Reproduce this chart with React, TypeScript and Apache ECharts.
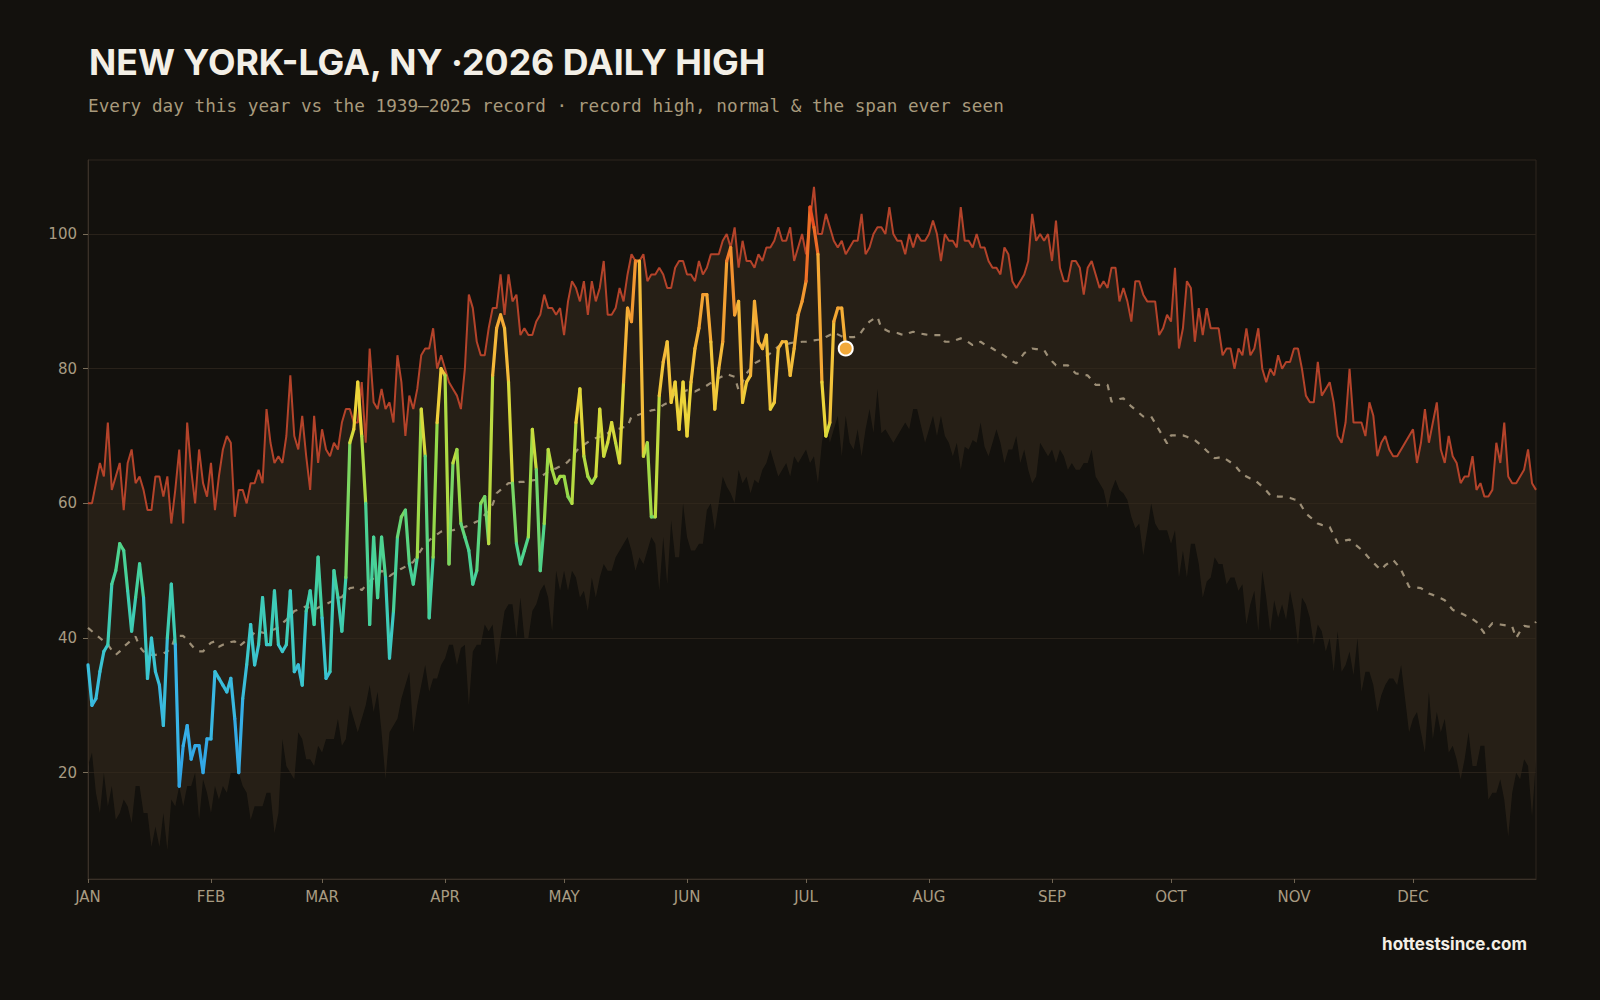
import React, { useEffect, useRef } from "react";
import * as echarts from "echarts";

const MONTHS = ["JAN", "FEB", "MAR", "APR", "MAY", "JUN", "JUL", "AUG", "SEP", "OCT", "NOV", "DEC"];
const MONTH_START_DAYS = [0, 31, 59, 90, 120, 151, 181, 212, 243, 273, 304, 334];
const Y_TICKS = [20, 40, 60, 80, 100];

const RECORD_HIGH = [
  60, 60, 63, 66, 64, 72, 62, 64, 66, 59,
  66, 68, 63, 64, 62, 59, 59, 64, 64, 61,
  64, 57, 62, 68, 57, 72, 65, 60, 68, 63,
  61, 66, 59, 64, 68, 70, 69, 58, 62, 62,
  60, 63, 63, 65, 63, 74, 69, 66, 67, 66,
  70, 79, 70, 68, 73, 67, 62, 73, 66, 71,
  68, 67, 69, 68, 72, 74, 74, 72, 72, 78,
  69, 83, 75, 74, 77, 74, 75, 72, 82, 78,
  70, 76, 74, 77, 82, 83, 83, 86, 80, 82,
  80, 78, 77, 76, 74, 80, 91, 89, 84, 82,
  82, 86, 89, 89, 94, 88, 94, 90, 91, 85,
  86, 85, 85, 87, 88, 91, 89, 89, 88, 89,
  85, 90, 93, 92, 90, 93, 88, 93, 90, 92,
  96, 88, 88, 89, 92, 90, 94, 97, 96, 96,
  97, 93, 94, 94, 95, 94, 92, 92, 95, 96,
  96, 94, 94, 93, 96, 94, 95, 97, 97, 97,
  99, 100, 98, 101, 95, 99, 96, 96, 95, 97,
  96, 98, 98, 99, 101, 99, 99, 101, 96, 98,
  100, 97, 102, 107, 100, 100, 103, 101, 99, 98,
  99, 97, 98, 99, 99, 103, 97, 98, 100, 101,
  101, 100, 104, 100, 99, 99, 97, 100, 98, 100,
  99, 99, 100, 102, 100, 96, 100, 99, 99, 98,
  104, 99, 99, 98, 100, 98, 98, 96, 95, 95,
  94, 98, 97, 93, 92, 93, 94, 96, 103, 99,
  100, 99, 100, 96, 102, 95, 93, 93, 96, 96,
  95, 91, 95, 96, 94, 92, 93, 92, 95, 95,
  90, 92, 90, 87, 93, 93, 91, 90, 90, 90,
  85, 86, 88, 87, 95, 83, 86, 93, 92, 84,
  89, 85, 89, 86, 86, 86, 82, 83, 83, 80,
  83, 82, 86, 82, 83, 86, 80, 78, 80, 79,
  82, 80, 81, 81, 83, 83, 80, 76, 75, 75,
  81, 76, 77, 78, 75, 70, 69, 72, 80, 72,
  72, 72, 70, 75, 73, 67, 69, 70, 68, 67,
  67, 68, 69, 70, 71, 66, 69, 74, 69, 72,
  75, 68, 66, 70, 67, 66, 63, 64, 64, 67,
  62, 63, 61, 61, 62, 69, 66, 72, 64, 63,
  63, 64, 65, 68, 63, 62,
];

const RECORD_LOW = [
  21, 23, 17, 14, 20, 15, 18, 13, 14, 16,
  15, 12.5, 18, 18, 14, 14, 9, 12, 9, 14,
  8.5, 16, 15, 18, 15, 18, 18, 20, 13, 19,
  17, 14, 18, 16, 18, 17, 20, 20, 20, 18,
  17, 13, 15, 15, 15, 17, 17, 11, 14, 25,
  21, 20, 19, 26, 25, 22, 22, 21, 24, 23,
  25, 25, 25, 28, 24, 25, 30, 28, 26, 28,
  30, 33, 29, 32, 26, 19, 26, 27, 28, 31,
  33, 35, 26, 30, 33, 36, 32, 34, 34, 36,
  37, 39, 39, 36, 38.5, 39, 30, 38, 39, 39,
  42, 41, 42, 36, 40, 44, 45, 45, 40, 46,
  40, 40, 44, 45, 47, 48, 46, 41, 50, 47,
  50, 47, 50, 49, 46, 47, 44, 49, 46, 49,
  51, 50, 50, 52, 53, 54, 55, 53, 50, 52,
  51, 53, 55, 54, 47, 55, 48, 57.5, 52, 52,
  60, 55, 53, 53, 54, 54, 59, 60, 56, 60,
  64, 62.5, 61.5, 60, 65, 63, 64, 61.5, 63.5, 63,
  65, 66, 68, 66, 64, 65, 66, 64, 67, 66,
  67, 68, 66, 67, 63, 69, 73, 69, 71, 73,
  67, 73, 69, 68, 71, 67, 71, 74, 70.5, 77,
  70.4, 71, 70, 69, 70, 71, 72, 71, 74, 74,
  71.5, 69, 71, 73, 70, 73, 70, 69, 67, 69,
  65, 68.4, 68, 69.4, 69, 72, 68.4, 67, 69, 71,
  69, 66, 68, 68, 70, 66, 68, 65, 63, 64,
  69, 68, 67, 68, 66, 68, 67, 65, 66, 65,
  65, 66, 66, 68, 64, 63, 62, 59.3, 62, 63.5,
  62, 61.5, 60.5, 58, 56.3, 57, 52.3, 56, 60, 57,
  56, 56, 56, 54, 56, 49, 53, 49, 54, 54,
  51, 46, 48.4, 49, 52, 51, 51, 48, 49, 49,
  47, 48, 42, 45, 47, 41, 50, 46, 41, 45.6,
  43, 45, 42.7, 47, 44, 39, 46, 45, 43, 39,
  42, 41, 38, 40, 35, 41, 35, 36, 38, 34.5,
  40, 32, 35, 35, 33, 29, 31.5, 33, 34, 34,
  33, 36, 31, 26, 28, 29, 26, 23, 32, 25,
  29, 26, 28, 23, 24, 22, 19, 22, 26, 21,
  21, 24, 24, 16, 17, 17, 19, 16, 10.5, 17,
  20, 19, 22, 21, 13.5, 22,
];

const NORMAL_HIGH = [
  41.5, 41.0, 40.5, 40.0, 39.5, 39.0, 38.2, 37.5, 38.0, 38.7,
  39.2, 39.7, 40.2, 38.7, 38.0, 37.6, 37.5, 37.5, 37.6, 37.7,
  38.0, 38.5, 40.2, 40.3, 40.3, 39.7, 39.0, 38.3, 38.0, 38.0,
  38.7, 39.3, 39.5, 38.7, 39.0, 39.2, 39.4, 39.5, 38.7, 39.2,
  39.7, 40.2, 40.8, 41.0, 40.8, 40.7, 41.0, 41.3, 41.6, 42.2,
  42.7, 43.3, 44.0, 44.2, 44.5, 44.7, 44.4, 44.2, 44.5, 44.8,
  45.0, 45.3, 45.6, 45.9, 46.1, 46.8, 47.4, 47.5, 47.6, 47.1,
  47.8, 48.4, 48.9, 49.4, 50.0, 49.6, 49.2, 49.6, 50.0, 50.3,
  50.6, 51.0, 51.3, 52.2, 53.1, 54.0, 54.5, 55.0, 55.4, 55.8,
  55.9, 56.0, 56.0, 56.2, 56.3, 56.5, 56.7, 57.0, 57.3, 57.5,
  58.3, 59.0, 59.8, 61.5, 62.0, 62.5, 63.0, 63.0, 63.1, 63.2,
  63.2, 63.3, 63.4, 63.5, 63.9, 64.3, 64.7, 65.0, 65.2, 65.5,
  65.7, 66.2, 66.9, 67.7, 68.4, 68.7, 69.1, 69.4, 69.7, 69.9,
  70.2, 70.4, 70.9, 71.0, 71.1, 71.3, 71.4, 72.9, 73.0, 73.2,
  73.4, 73.6, 73.8, 73.9, 74.2, 74.6, 74.9, 75.6, 76.3, 76.5,
  76.6, 76.8, 76.7, 76.6, 76.9, 77.1, 77.5, 77.9, 78.3, 78.6,
  78.9, 79.2, 79.0, 78.8, 76.8, 78.0, 79.3, 80.0, 80.8, 81.1,
  81.5, 81.8, 82.3, 82.8, 83.3, 83.5, 83.6, 83.8, 83.9, 83.9,
  84.0, 84.0, 84.1, 84.2, 84.3, 84.3, 84.7, 85.0, 85.4, 85.1,
  84.8, 84.6, 84.7, 84.7, 84.8, 85.5, 86.3, 87.0, 87.4, 87.7,
  86.0, 85.8, 85.5, 85.4, 85.3, 85.1, 85.0, 85.3, 85.5, 85.3,
  85.2, 85.1, 85.0, 85.0, 85.0, 85.0, 84.0, 84.0, 84.0, 84.3,
  84.5, 84.3, 83.9, 83.5, 83.8, 84.0, 83.6, 83.3, 83.0, 82.6,
  82.3, 81.9, 81.5, 81.1, 80.8, 81.5, 82.3, 82.7, 83.0, 82.9,
  82.9, 82.8, 81.8, 81.1, 80.5, 80.5, 80.5, 80.5, 79.9, 79.3,
  79.2, 79.1, 79.0, 78.3, 77.6, 77.6, 77.6, 77.6, 75.1, 75.3,
  75.5, 75.6, 75.0, 74.4, 73.9, 73.4, 72.9, 72.9, 72.9, 71.9,
  70.9, 69.9, 68.9, 70.1, 70.1, 70.1, 70.1, 69.9, 69.6, 69.4,
  68.9, 68.4, 67.8, 67.3, 66.7, 66.8, 66.9, 66.5, 66.1, 65.7,
  65.0, 64.2, 64.0, 63.7, 63.5, 63.0, 62.5, 61.9, 61.2, 61.1,
  61.0, 61.0, 60.9, 60.8, 60.6, 60.5, 59.5, 58.5, 58.0, 57.5,
  57.0, 56.8, 56.7, 56.5, 55.3, 54.1, 54.3, 54.5, 54.6, 54.1,
  53.6, 53.1, 52.5, 51.8, 51.2, 50.6, 50.1, 50.8, 51.2, 51.6,
  50.9, 50.1, 48.9, 47.6, 47.5, 47.5, 47.4, 47.0, 46.6, 46.4,
  46.1, 45.9, 45.6, 44.9, 44.2, 43.9, 43.7, 43.4, 43.1, 42.8,
  42.4, 41.5, 40.7, 41.5, 42.2, 42.1, 42.0, 41.9, 41.8, 41.7,
  40.0, 41.0, 41.8, 41.7, 41.7, 42.4,
];

const THIS_YEAR = [
  36, 30, 31, 35, 38, 39, 48, 50, 54, 53,
  47, 41, 46, 51, 46, 34, 40, 35, 33, 27,
  40, 48, 39, 18, 24, 27, 22, 24, 24, 20,
  25, 25, 35, 34, 33, 32, 34, 28, 20, 31,
  36, 42, 36, 39, 46, 39, 39, 47, 39, 38,
  39, 47, 35, 36, 33, 44, 47, 42, 52, 43,
  34, 35, 50, 46, 41, 49, 69, 71, 78, 70,
  60, 42, 55, 46, 55, 49, 37, 44, 55, 58,
  59, 51, 48, 52, 74, 67, 43, 52, 72, 80,
  79, 51, 66, 68, 57, 55, 53, 48, 50, 60,
  61, 54, 79, 86, 88, 86, 78, 63, 54, 51,
  53, 55, 71, 65, 50, 57, 68, 65, 63, 64,
  64, 61, 60, 72, 77, 67, 64, 63, 64, 74,
  67, 69, 72, 69, 66, 78, 89, 87, 96, 96,
  67, 69, 58, 58, 76, 81, 84, 75, 78, 71,
  78, 70, 78, 83, 86, 91, 91, 84, 74, 80,
  84, 96, 98, 88, 90, 75, 78, 79, 90, 84,
  83, 85, 74, 75, 83, 84, 84, 79, 83, 88,
  90, 93, 104, 101, 97, 78, 70, 72, 87, 89,
  89, 83,
];

const TEMP_STOPS = [18, 28, 38, 46, 54, 62, 68, 74, 82, 90, 97, 104];
const TEMP_COLORS = [
  "#2e9fe6", "#38b3e6", "#3bc6cf", "#40cfa8", "#52d488", "#95d94a",
  "#c8dc3e", "#ecd53a", "#f5bb3b", "#f3a032", "#f07c2a", "#e8431e",
];

function tempColor(v: number): string {
  if (v <= TEMP_STOPS[0]) return TEMP_COLORS[0];
  for (let i = 0; i < TEMP_STOPS.length - 1; i++) {
    if (v <= TEMP_STOPS[i + 1]) {
      const t = (v - TEMP_STOPS[i]) / (TEMP_STOPS[i + 1] - TEMP_STOPS[i]);
      return echarts.color.lerp(t, [TEMP_COLORS[i], TEMP_COLORS[i + 1]]) as string;
    }
  }
  return TEMP_COLORS[TEMP_COLORS.length - 1];
}

const TITLE = "NEW YORK-LGA, NY ·2026 DAILY HIGH";
const SUBTITLE = "Every day this year vs the 1939–2025 record · record high, normal & the span ever seen";
const FOOTER = "hottestsince.com";

export default function App() {
  const ref = useRef<HTMLDivElement>(null);

  useEffect(() => {
    if (!ref.current) return;
    const chart = echarts.init(ref.current, null, { renderer: "svg" });

    const days = RECORD_HIGH.map((_, i) => String(i));
    const bandSpan = RECORD_HIGH.map((h, i) => h - RECORD_LOW[i]);
    const segments = THIS_YEAR.slice(1).map((v, i) => [i, THIS_YEAR[i], i + 1, v]);
    const lastIdx = THIS_YEAR.length - 1;
    const lastVal = THIS_YEAR[lastIdx];

    const option: any = {
      animation: false,
      backgroundColor: "#13110d",
      grid: {
        left: 88,
        right: 64,
        top: 160,
        bottom: 121,
        show: true,
        borderColor: "#2e271e",
        borderWidth: 1,
        backgroundColor: "transparent",
      },
      xAxis: {
        type: "category",
        data: days,
        boundaryGap: false,
        axisLine: { show: true, lineStyle: { color: "#3a3128", width: 1 } },
        axisTick: {
          show: true,
          length: 4,
          interval: (idx: number) => MONTH_START_DAYS.includes(idx),
          lineStyle: { color: "#6f6452" },
        },
        axisLabel: {
          interval: (idx: number) => MONTH_START_DAYS.includes(idx),
          formatter: (_v: string, idx: number) => MONTHS[MONTH_START_DAYS.indexOf(idx)] ?? "",
          color: "#a89b82",
          fontSize: 15,
          fontFamily: "DejaVu Sans",
          margin: 10,
        },
        splitLine: { show: false },
      },
      yAxis: {
        type: "value",
        min: 4.2,
        max: 111,
        splitNumber: 5,
        axisLine: { show: true, lineStyle: { color: "#3a3128", width: 1 } },
        axisTick: {
          show: true,
          length: 5,
          customValues: Y_TICKS,
          lineStyle: { color: "#7a6e5a" },
        },
        axisLabel: {
          customValues: Y_TICKS,
          formatter: (v: number) => (Y_TICKS.includes(v) ? String(v) : ""),
          color: "#a89b82",
          fontSize: 15,
          fontFamily: "DejaVu Sans",
          margin: 11,
        },
        splitLine: { show: true, lineStyle: { color: "#29221a", width: 1 } },
      },
      graphic: [
        {
          type: "text",
          x: 89,
          y: 62,
          style: {
            text: TITLE,
            fill: "#f3efe6",
            fontFamily: "Inter",
            fontWeight: 700,
            fontSize: 35.7,
            align: "left",
            verticalAlign: "middle",
          },
        },
        {
          type: "text",
          x: 88,
          y: 106,
          style: {
            text: SUBTITLE,
            fill: "#a89a7c",
            fontFamily: "DejaVu Sans Mono",
            fontSize: 17.7,
            align: "left",
            verticalAlign: "middle",
          },
        },
        {
          type: "text",
          x: 1527,
          y: 944,
          style: {
            text: FOOTER,
            fill: "#f3efe6",
            fontFamily: "Inter",
            fontWeight: 700,
            fontSize: 17,
            align: "right",
            verticalAlign: "middle",
          },
        },
      ],
      series: [
        {
          name: "low",
          type: "line",
          data: RECORD_LOW,
          stack: "band",
          symbol: "none",
          silent: true,
          lineStyle: { opacity: 0, width: 0 },
          z: 1,
        },
        {
          name: "span",
          type: "line",
          data: bandSpan,
          stack: "band",
          symbol: "none",
          silent: true,
          lineStyle: { opacity: 0, width: 0 },
          areaStyle: { color: "rgba(51,41,29,0.6)", opacity: 1 },
          z: 1,
        },
        {
          name: "normal",
          type: "line",
          data: NORMAL_HIGH,
          symbol: "none",
          silent: true,
          lineStyle: { color: "#9c8e76", width: 2.2, type: [6, 7], opacity: 1 },
          z: 2,
        },
        {
          name: "record high",
          type: "line",
          data: RECORD_HIGH,
          symbol: "none",
          silent: true,
          lineStyle: { color: "#b4432a", width: 2 },
          z: 3,
        },
        {
          name: "this year",
          type: "custom",
          data: segments,
          encode: { x: [0, 2], y: [1, 3] },
          silent: true,
          z: 4,
          renderItem: (_params: any, api: any) => {
            const p0 = api.coord([api.value(0), api.value(1)]);
            const p1 = api.coord([api.value(2), api.value(3)]);
            const mean = (api.value(1) + api.value(3)) / 2;
            return {
              type: "line",
              shape: { x1: p0[0], y1: p0[1], x2: p1[0], y2: p1[1] },
              style: { stroke: tempColor(mean), lineWidth: 3.2, lineCap: "round", lineJoin: "round" },
            };
          },
        },
        {
          name: "latest",
          type: "scatter",
          data: [[lastIdx, lastVal]],
          symbol: "circle",
          symbolSize: 14,
          silent: true,
          itemStyle: { color: "#f2a93b", borderColor: "#ffffff", borderWidth: 2, opacity: 1 },
          z: 5,
        },
      ],
    };

    chart.setOption(option);
    return () => chart.dispose();
  }, []);

  return (
    <div
      ref={ref}
      style={{ position: "fixed", left: 0, top: 0, width: 1600, height: 1000, background: "#13110d" }}
    />
  );
}
